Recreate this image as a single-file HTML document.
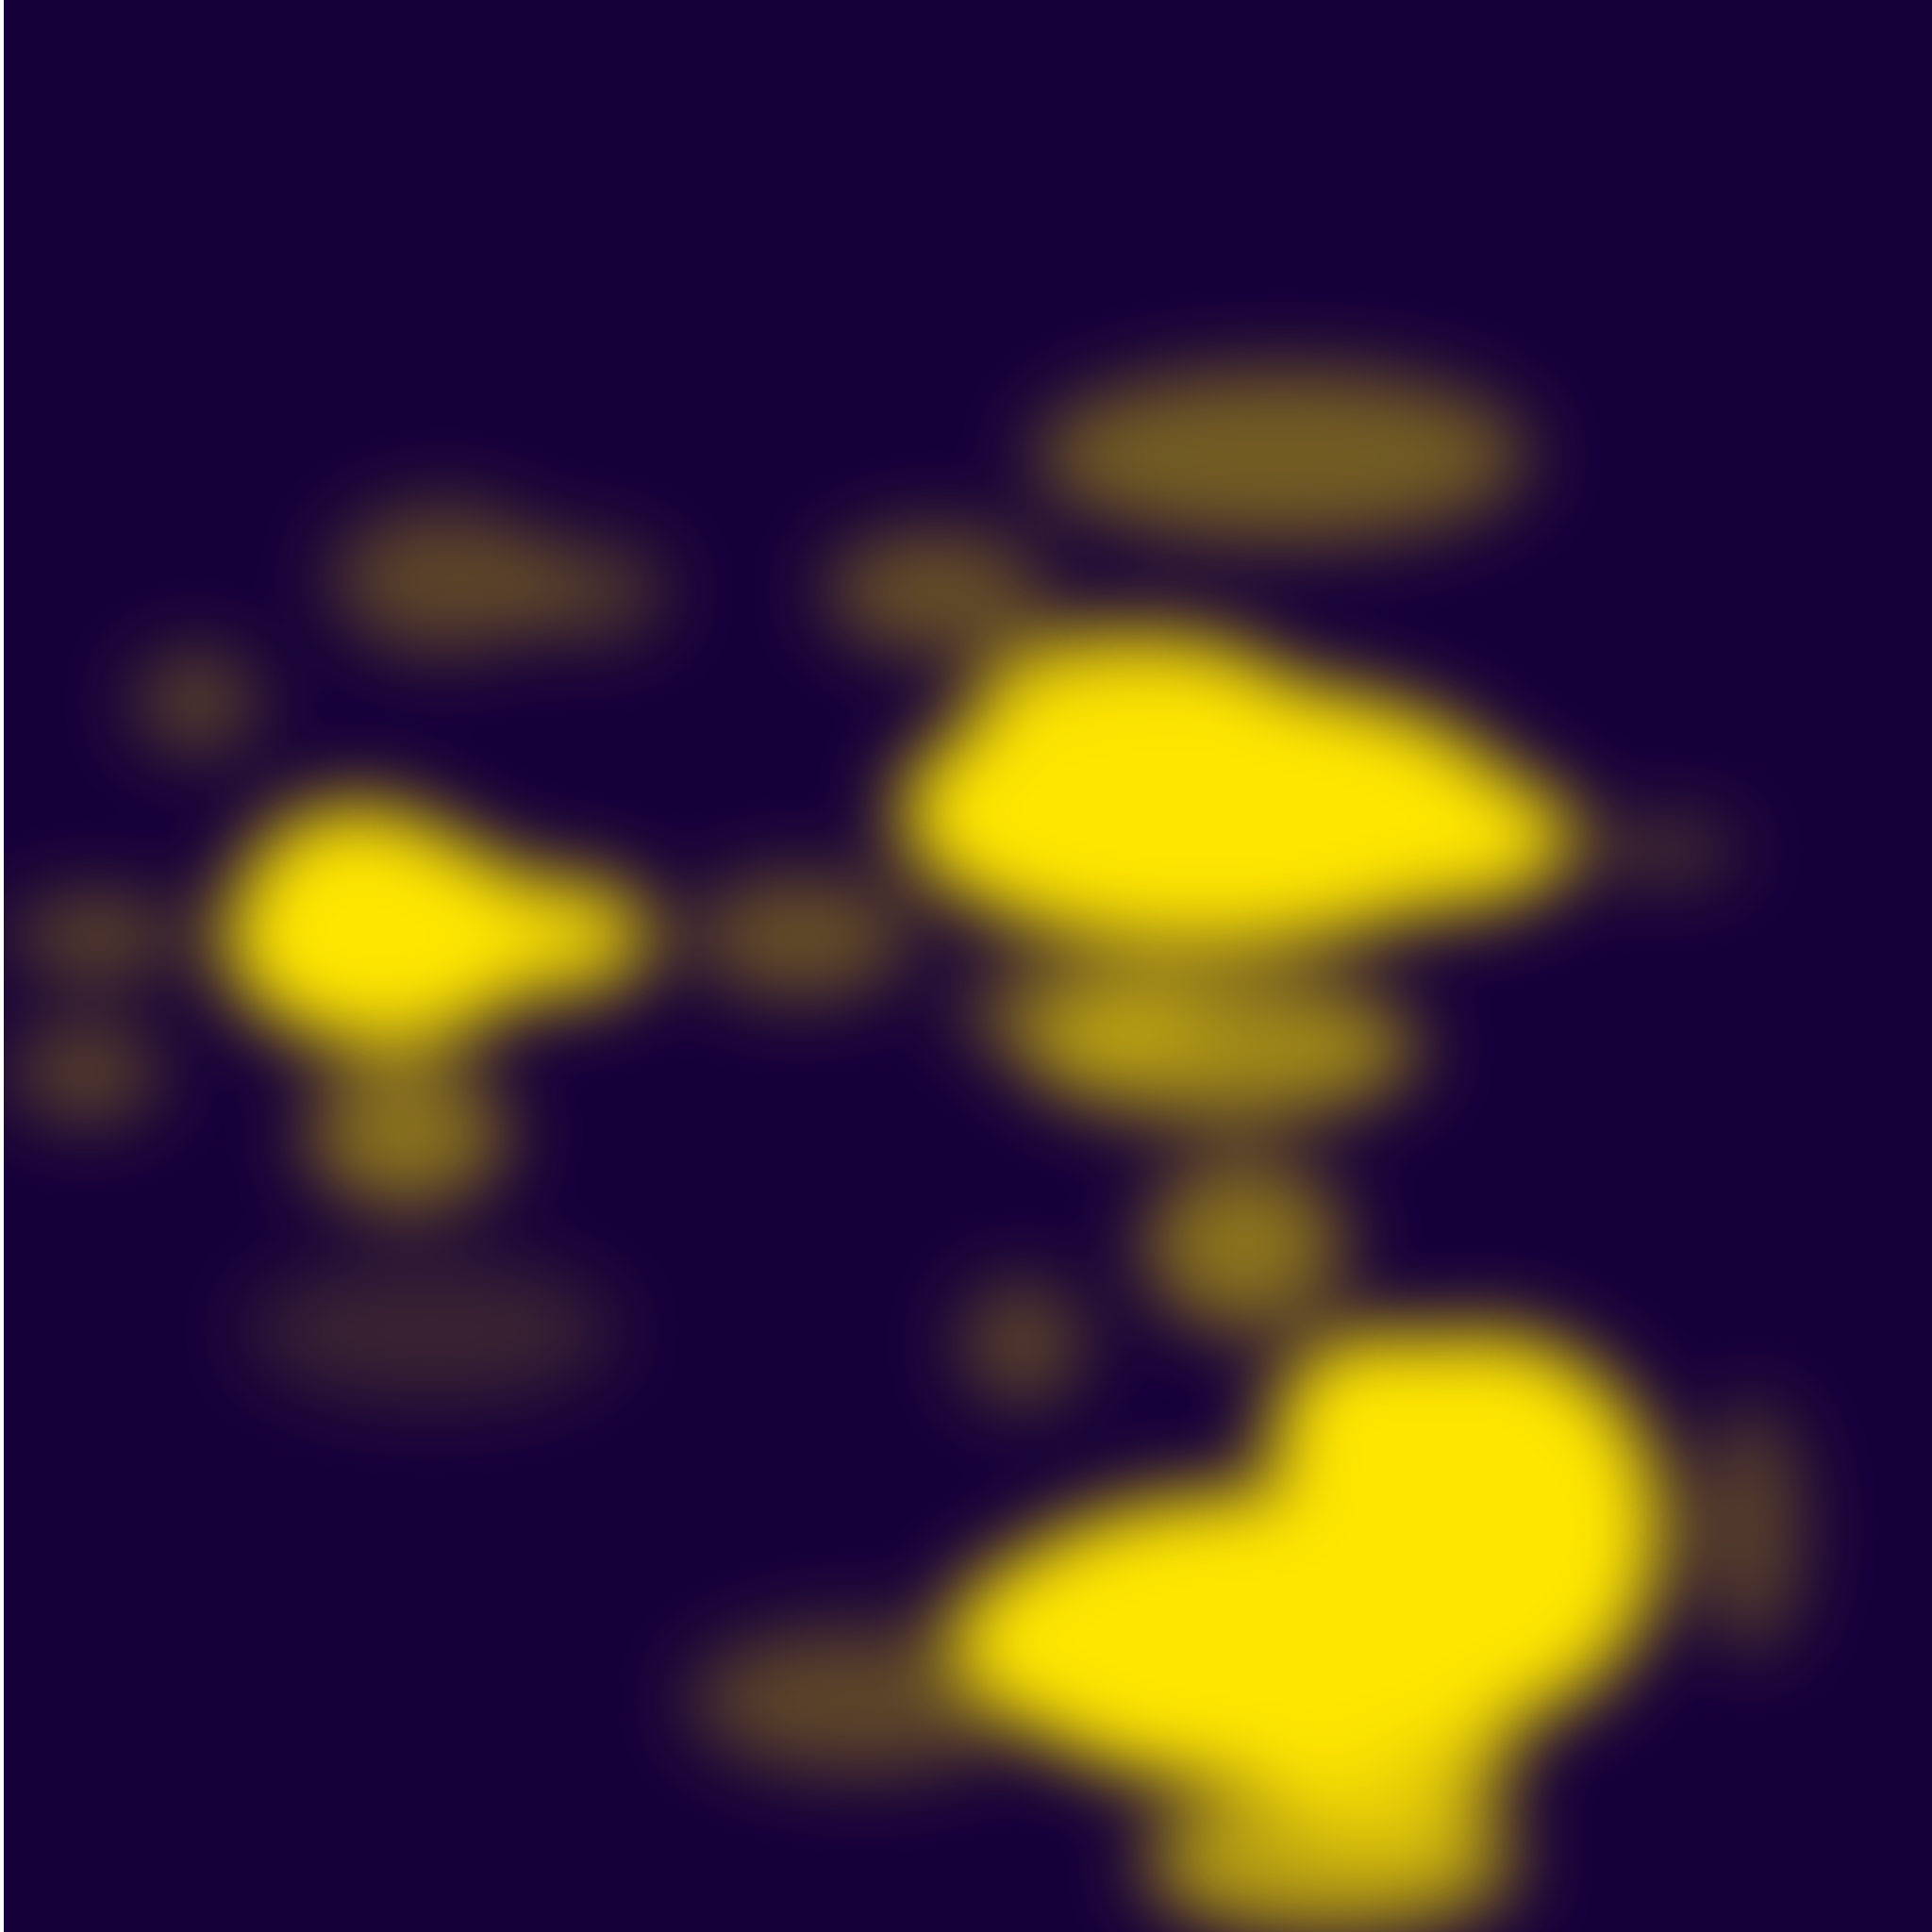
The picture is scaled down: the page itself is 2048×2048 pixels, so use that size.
<!DOCTYPE html>
<html><head><meta charset="utf-8"><style>
html,body{margin:0;padding:0;background:#fff;width:2048px;height:2048px;overflow:hidden}
svg{position:absolute;left:4px;top:0}
</style></head><body>
<svg id="chart" width="2044" height="2048" viewBox="0 0 2044 2048">
<defs><filter id="blur" x="-50%" y="-50%" width="200%" height="200%"><feGaussianBlur stdDeviation="40"/></filter></defs>
<rect x="0" y="0" width="2044" height="2048" fill="#16003a"/>
<g id="blobs" filter="url(#blur)"></g>
</svg>
<script>
// blob data in 1568-reference units: centre x, centre y, radius x, radius y, intensity
const blobX = [980,1150,920,310,450,1020,1200,1120,1120,1040,990,1010,1080,650,360,160,70,330,350,700,1420,1350,760,950,290,80,830,880,480];
const blobY = [660,680,570,760,760,1330,1240,1170,1410,370,850,1010,1510,760,470,570,870,920,1080,1380,1240,690,480,1330,720,760,1090,820,480];
const blobRX = [250,130,130,130,80,230,150,90,110,200,160,80,150,90,90,50,60,80,150,140,40,60,90,180,90,70,50,100,60];
const blobRY = [110,60,60,90,50,120,160,90,90,70,60,70,60,50,60,40,40,60,60,60,100,20,50,90,70,30,50,40,40];
const blobI = [1,1,0.9,1,0.9,1,1,1,0.8,0.4,0.6,0.5,0.7,0.35,0.3,0.3,0.3,0.5,0.15,0.3,0.3,0.3,0.35,1,0.9,0.35,0.3,0.4,0.25];
const s = 2048/1568;
const g = document.getElementById('blobs');
for (let i = 0; i < blobX.length; i++) {
  const e = document.createElementNS('http://www.w3.org/2000/svg','ellipse');
  e.setAttribute('cx', blobX[i]*s - 4);
  e.setAttribute('cy', blobY[i]*s);
  e.setAttribute('rx', blobRX[i]*s);
  e.setAttribute('ry', blobRY[i]*s);
  e.setAttribute('fill', '#ffe600');
  e.setAttribute('fill-opacity', blobI[i]);
  
  
  g.appendChild(e);
}
</script>
</body></html>
